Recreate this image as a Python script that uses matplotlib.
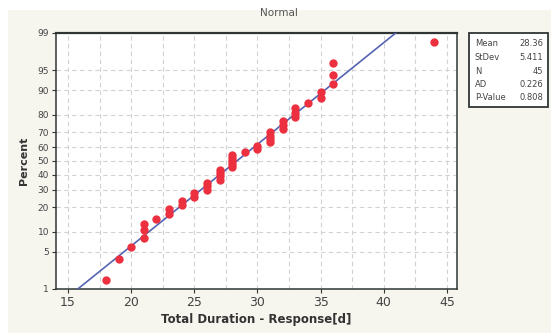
from statistics import NormalDist

import numpy as np
import matplotlib
matplotlib.use("Agg")
import matplotlib.pyplot as plt
from matplotlib.patches import Rectangle
from matplotlib.ticker import FixedLocator, MultipleLocator

# observed durations (days) and how many times each occurs
duration_values = [18, 19, 20, 21, 22, 23, 24, 25, 26, 27, 28, 29, 30, 31, 32, 33, 34, 35, 36, 44]
duration_counts = [1, 1, 1, 3, 1, 2, 2, 2, 3, 4, 5, 1, 2, 4, 3, 3, 1, 2, 3, 1]

stat_labels = ["Mean", "StDev", "N", "AD", "P-Value"]
stat_values = ["28.36", "5.411", "45", "0.226", "0.808"]
fit_mean = 28.36
fit_stdev = 5.411

percent_ticks = [1, 5, 10, 20, 30, 40, 50, 60, 70, 80, 90, 95, 99]
x_ticks = [15, 20, 25, 30, 35, 40, 45]

W, H = 551, 333
nd = NormalDist()


def zq(p):
    return nd.inv_cdf(p / 100.0)


# median-rank plotting positions, as Minitab does it
data = np.repeat(duration_values, duration_counts)
n = len(data)
ranks = np.arange(1, n + 1)
pct = (ranks - 0.3) / (n + 0.4) * 100
z_pts = [zq(p) for p in pct]

fig = plt.figure(figsize=(W / 100, H / 100), dpi=100)
fig.patch.set_facecolor("white")
fig.add_artist(Rectangle((8 / W, 0), 1, (H - 10) / H, transform=fig.transFigure,
                         facecolor="#f6f5ee", edgecolor="none", zorder=-5))

ax = fig.add_axes([56 / W, (H - 289) / H, (457 - 56) / W, (289 - 33) / H])
ax.set_facecolor("white")

# fitted normal line
z_lo, z_hi = zq(percent_ticks[0]), zq(percent_ticks[-1])
ax.plot([fit_mean + fit_stdev * z_lo, fit_mean + fit_stdev * z_hi], [z_lo, z_hi],
        color="#5563b3", lw=1.2, zorder=3)
ax.plot(data, z_pts, "o", color="#ec3040", ms=6, mec="none", zorder=4, clip_on=False)

ax.set_xlim(14.05, 45.8)
ax.set_ylim(z_lo, z_hi)
ax.xaxis.set_major_locator(FixedLocator(x_ticks))
ax.xaxis.set_minor_locator(MultipleLocator(2.5))
ax.set_yticks([zq(p) for p in percent_ticks])
ax.set_yticklabels([str(p) for p in percent_ticks])

ax.grid(True, which="both", axis="x", color="#d2d2d2", ls=(0, (4, 3)), lw=0.8)
ax.grid(True, which="major", axis="y", color="#d2d2d2", ls=(0, (4, 3)), lw=0.8)
ax.set_axisbelow(True)

ax.tick_params(axis="x", which="major", length=3, width=0.8, colors="#333333",
               labelsize=9, pad=2, labelcolor="#444444")
ax.tick_params(axis="x", which="minor", length=0)
ax.tick_params(axis="y", length=3, width=0.8, colors="#333333", labelsize=6.5,
               pad=2, labelcolor="#444444")
for s in ax.spines.values():
    s.set_color("#2f3535")
    s.set_linewidth(1.1)
ax.spines["top"].set_linewidth(1.6)

ax.set_xlabel("Total Duration - Response[d]", fontsize=8.5, fontweight="bold",
              color="#333333", labelpad=3)
ax.set_ylabel("Percent", fontsize=8, fontweight="bold", color="#333333", labelpad=6)

fig.text(279 / W, 1 - 13 / H, "Normal", ha="center", va="center",
         fontsize=7.5, color="#555555")

# stats box
bx0, bx1, by0, by1 = 469, 548, 33, 107
fig.add_artist(Rectangle((bx0 / W, 1 - by1 / H), (bx1 - bx0) / W, (by1 - by0) / H,
                         transform=fig.transFigure, facecolor="white",
                         edgecolor="#2f3535", lw=1.3))
row_y = [44, 57.5, 71, 84.5, 98]
for lab, val, yy in zip(stat_labels, stat_values, row_y):
    fig.text(475 / W, 1 - yy / H, lab, ha="left", va="center", fontsize=6, color="#444444")
    fig.text(543 / W, 1 - yy / H, val, ha="right", va="center", fontsize=6, color="#444444")

fig.savefig("out.png", dpi=100)
